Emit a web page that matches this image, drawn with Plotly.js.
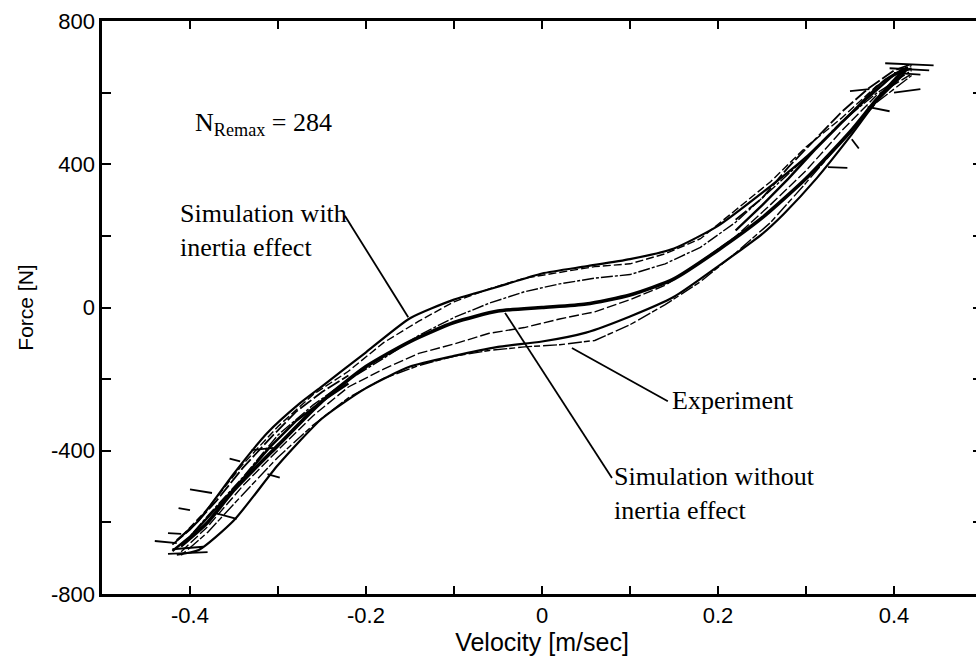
<!DOCTYPE html>
<html>
<head>
<meta charset="utf-8">
<script src="https://cdn.plot.ly/plotly-3.0.1.min.js"></script>
<style>
html,body{margin:0;padding:0;overflow:hidden;background:#fff;}
#chart{width:1000px;height:665px;}
</style>
</head>
<body>
<div id="chart"></div>
<script>
// ---- Data ----
// Simulation with inertia effect: upper branch (left to right)
const simUpV = [-0.415,-0.39,-0.35,-0.3125,-0.275,-0.25,-0.2,-0.15,-0.1,-0.05,0,0.05,0.1,0.15,0.2,0.25,0.3,0.35,0.39,0.415];
const simUpF = [-650,-594,-463,-351,-267,-220,-125,-30,22,58,95,115,135,165,228,320,420,540,636,670];
// Simulation with inertia effect: lower branch (right to left)
const simLoV = [0.41,0.38,0.35,0.3125,0.275,0.25,0.2,0.15,0.1,0.05,0,-0.05,-0.1,-0.15,-0.2,-0.25,-0.3,-0.35,-0.39,-0.415];
const simLoF = [650,575,477,362,262,205,115,30,-25,-70,-95,-110,-135,-165,-225,-310,-440,-594,-677,-690];
// Simulation without inertia effect
const midV = [-0.41,-0.38,-0.35,-0.3,-0.25,-0.2,-0.15,-0.1,-0.05,0,0.05,0.1,0.15,0.2,0.25,0.3,0.35,0.38,0.41];
const midF = [-665,-600,-510,-385,-262,-165,-95,-42,-10,0,10,35,80,160,250,360,490,580,660];
// Experiment: four measured strands over the whole loop
const expV  = [-0.41,-0.38,-0.34,-0.3,-0.26,-0.22,-0.18,-0.14,-0.1,-0.06,-0.02,0.02,0.06,0.1,0.14,0.18,0.22,0.26,0.3,0.34,0.38,0.42];
const expAF = [-640,-562,-438,-332,-243,-178,-98,-38,16,52,82,98,114,122,150,192,272,352,448,528,618,676];
const expBF = [-668,-582,-474,-356,-272,-202,-142,-78,-28,12,44,66,82,92,122,168,238,328,418,518,598,662];
const expCF = [-682,-612,-498,-398,-302,-222,-172,-128,-102,-72,-56,-32,-12,22,62,128,198,288,382,492,592,652];
const expDF = [-692,-628,-522,-418,-328,-252,-198,-162,-136,-120,-110,-104,-92,-48,8,72,152,238,348,462,572,648];
// Experiment: extra strands crowding the two ends of the loop
const endHiV = [0.22,0.25,0.28,0.31,0.34,0.37,0.40,0.42];
const endHiF = [215,285,360,440,515,585,650,668];
const endHi2F = [245,305,392,470,545,610,662,680];
const endLoV = [-0.42,-0.40,-0.37,-0.34,-0.31,-0.28,-0.25,-0.22];
const endLoF = [-680,-640,-560,-478,-392,-318,-262,-212];
const endLo2F = [-662,-620,-540,-448,-368,-292,-236,-190];
// Experiment: short noisy strokes at the ends of the loop (null separates strokes)
const spikeV = [0.39,0.445,null,0.395,0.44,null,0.40,0.43,null,0.40,0.43,null,0.35,0.372,null,0.325,0.347,null,0.352,0.36,null,0.37,0.395,null,
                -0.44,-0.415,null,-0.425,-0.38,null,-0.42,-0.385,null,-0.425,-0.41,null,-0.413,-0.40,null,-0.40,-0.375,null,-0.355,-0.343,null,-0.312,-0.298,null,-0.37,-0.347,null,-0.33,-0.305];
const spikeF = [682,676,null,668,662,null,655,650,null,600,610,null,604,610,null,392,390,null,470,444,null,560,548,null,
                -652,-658,null,-688,-683,null,-675,-668,null,-630,-632,null,-560,-566,null,-508,-518,null,-422,-430,null,-465,-475,null,-575,-590,null,-398,-392];
// Axis ticks
const xTickVals = [-0.4,-0.3,-0.2,-0.1,0,0.1,0.2,0.3,0.4];
const xTickText = ['-0.4','','-0.2','','0','','0.2','','0.4'];
const yTickVals = [-800,-600,-400,-200,0,200,400,600,800];
const yTickText = ['-800','','-400','','0','','400','','800'];

const black = '#000';
const traces = [
  {x: expV, y: expAF, mode:'lines', line:{color:black, width:1.4, dash:'8px,3px'}, hoverinfo:'skip'},
  {x: expV, y: expBF, mode:'lines', line:{color:black, width:1.4, dash:'12px,2px,3px,2px'}, hoverinfo:'skip'},
  {x: expV, y: expCF, mode:'lines', line:{color:black, width:1.4, dash:'10px,3px'}, hoverinfo:'skip'},
  {x: expV, y: expDF, mode:'lines', line:{color:black, width:1.4, dash:'6px,3px,14px,2px'}, hoverinfo:'skip'},
  {x: endHiV, y: endHiF, mode:'lines', line:{color:black, width:2.4}, hoverinfo:'skip'},
  {x: endHiV, y: endHi2F, mode:'lines', line:{color:black, width:1.8, dash:'14px,3px'}, hoverinfo:'skip'},
  {x: endLoV, y: endLoF, mode:'lines', line:{color:black, width:2.4}, hoverinfo:'skip'},
  {x: endLoV, y: endLo2F, mode:'lines', line:{color:black, width:1.8, dash:'14px,3px'}, hoverinfo:'skip'},
  {x: spikeV, y: spikeF, mode:'lines', line:{color:black, width:1.8}, connectgaps:false, hoverinfo:'skip'},
  {x: simUpV.concat(simLoV), y: simUpF.concat(simLoF), mode:'lines', line:{color:black, width:2.2, shape:'spline', smoothing:0.6}, hoverinfo:'skip'},
  {x: midV, y: midF, mode:'lines', line:{color:black, width:3.6, shape:'spline', smoothing:0.6}, hoverinfo:'skip'}
];

const serif = {family:'"Liberation Serif", "Times New Roman", serif', size:26, color:black};
const layout = {
  width:1000, height:665,
  margin:{l:102, r:18, t:21, b:71},
  paper_bgcolor:'#fff', plot_bgcolor:'#fff',
  showlegend:false,
  font:{family:'"Liberation Sans", Arial, sans-serif', size:22, color:black},
  xaxis:{range:[-0.5,0.5], tickmode:'array', tickvals:xTickVals, ticktext:xTickText,
         ticks:'inside', ticklen:8, tickwidth:2, tickcolor:black,
         showline:true, linewidth:2.6, linecolor:black, mirror:'ticks',
         showgrid:false, zeroline:false, ticklabelstandoff:0,
         title:{text:'Velocity [m/sec]', standoff:4, font:{size:25}}},
  yaxis:{range:[-800,800], tickmode:'array', tickvals:yTickVals, ticktext:yTickText,
         ticks:'inside', ticklen:9, tickwidth:2, tickcolor:black,
         showline:true, linewidth:2.6, linecolor:black, mirror:'ticks',
         showgrid:false, zeroline:false, ticklabelstandoff:0,
         title:{text:'Force [N]', standoff:12, font:{size:21}}},
  shapes:[
    {type:'line', xref:'x', yref:'y', x0:-0.224, y0:256, x1:-0.152, y1:-27, line:{color:black, width:1.8}},
    {type:'line', xref:'x', yref:'y', x0:0.143, y0:-262, x1:0.034, y1:-113, line:{color:black, width:1.8}},
    {type:'line', xref:'x', yref:'y', x0:0.0795, y0:-476, x1:-0.042, y1:-15, line:{color:black, width:1.8}}
  ],
  annotations:[
    {text:'N<sub>Remax</sub> = 284', x:-0.397, y:512, xref:'x', yref:'y', xanchor:'left', yanchor:'middle', showarrow:false, font:serif},
    {text:'Simulation with<br>inertia effect', x:-0.414, y:214, xref:'x', yref:'y', xanchor:'left', yanchor:'middle', align:'left', showarrow:false, font:serif},
    {text:'Experiment', x:0.145, y:-261, xref:'x', yref:'y', xanchor:'left', yanchor:'middle', showarrow:false, font:serif},
    {text:'Simulation without<br>inertia effect', x:0.08, y:-518, xref:'x', yref:'y', xanchor:'left', yanchor:'middle', align:'left', showarrow:false, font:serif}
  ]
};
Plotly.newPlot('chart', traces, layout, {staticPlot:true, displayModeBar:false});
</script>
</body>
</html>
